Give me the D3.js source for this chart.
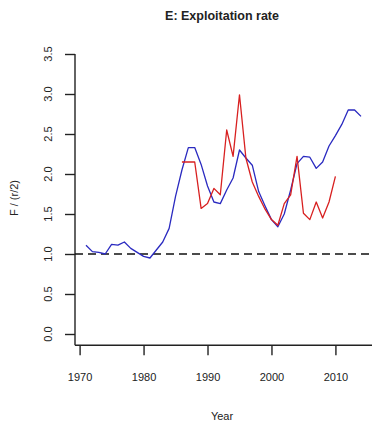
<html>
<head>
<script src="https://d3js.org/d3.v7.min.js"></script>
<style>
  body { margin: 0; background: #fff; }
  text { font-family: "Liberation Sans", Arial, sans-serif; fill: #222; }
</style>
</head>
<body>
<svg id="chart" width="375" height="424"></svg>
<script>
// model estimate (blue), 1971-2014
const yearsModel = d3.range(1971, 2015);
const fModel = [1.11, 1.03, 1.02, 1.00, 1.12, 1.11, 1.15, 1.07, 1.02, 0.97,
                0.95, 1.05, 1.15, 1.32, 1.72, 2.05, 2.33, 2.33, 2.12, 1.85,
                1.65, 1.63, 1.80, 1.95, 2.30, 2.20, 2.11, 1.78, 1.60, 1.43,
                1.34, 1.50, 1.80, 2.13, 2.22, 2.21, 2.07, 2.15, 2.35, 2.48,
                2.62, 2.80, 2.80, 2.72];
// observed / alternative (red), 1986-2010
const yearsObs = d3.range(1986, 2011);
const fObs = [2.15, 2.15, 2.15, 1.57, 1.63, 1.82, 1.74, 2.55, 2.22, 2.99,
              2.20, 1.90, 1.72, 1.56, 1.43, 1.36, 1.63, 1.74, 2.22, 1.51,
              1.43, 1.65, 1.45, 1.65, 1.97];
const xTicks = [1970, 1980, 1990, 2000, 2010];
const yTicks = [0, 0.5, 1, 1.5, 2, 2.5, 3, 3.5];
const refLevel = 1.0;

const svg = d3.select("svg#chart");
const plot = { left: 75, right: 372, top: 42.8, bottom: 345.2 };

// R style 4% extension of the ranges
const xr = [1971, 2014], yr = [0, 3.5];
const xPad = (xr[1] - xr[0]) * 0.04, yPad = (yr[1] - yr[0]) * 0.04;
const xScale = d3.scaleLinear().domain([xr[0] - xPad, xr[1] + xPad]).range([plot.left, plot.right]);
const yScale = d3.scaleLinear().domain([yr[0] - yPad, yr[1] + yPad]).range([plot.bottom, plot.top]);

// axes
const bottomA = d3.axisBottom(xScale).tickValues(xTicks).tickSize(10).tickPadding(18).tickFormat(d3.format("d"));
const xAxis = svg.append("g")
  .attr("transform", `translate(0,${plot.bottom})`)
  .call(bottomA);
xAxis.select(".domain").remove();
xAxis.selectAll("line").attr("stroke", "#222").attr("stroke-width", 1.4);
xAxis.selectAll("text").attr("font-size", 11).attr("fill", "#222");

const leftA = d3.axisLeft(yScale).tickValues(yTicks).tickSize(10).tickFormat("");
const yAxis = svg.append("g")
  .attr("transform", `translate(${plot.left},0)`)
  .call(leftA);
yAxis.select(".domain").remove();
yAxis.selectAll("line").attr("stroke", "#222").attr("stroke-width", 1.4);

svg.selectAll("text.ytick").data(yTicks)
  .join("text")
  .attr("class", "ytick")
  .attr("transform", d => `translate(48,${yScale(d)}) rotate(-90)`)
  .attr("text-anchor", "middle")
  .attr("dominant-baseline", "central")
  .attr("font-size", 11)
  .text(d => d3.format(".1f")(d));

// L-shaped frame
svg.append("line")
  .attr("x1", plot.left).attr("x2", plot.left)
  .attr("y1", yScale(3.5)).attr("y2", plot.bottom)
  .attr("stroke", "#222").attr("stroke-width", 1.4);
svg.append("line")
  .attr("x1", plot.left).attr("x2", plot.right)
  .attr("y1", plot.bottom).attr("y2", plot.bottom)
  .attr("stroke", "#222").attr("stroke-width", 1.4);

// reference line
svg.append("line")
  .attr("x1", plot.left).attr("x2", plot.right)
  .attr("y1", yScale(refLevel)).attr("y2", yScale(refLevel))
  .attr("stroke", "#111").attr("stroke-width", 1.3)
  .attr("stroke-dasharray", "8,5");

const lineGen = d3.line().x(d => xScale(d[0])).y(d => yScale(d[1]));

svg.append("path")
  .datum(yearsModel.map((y, i) => [y, fModel[i]]))
  .attr("fill", "none").attr("stroke", "#2a2ac0").attr("stroke-width", 1.3)
  .attr("stroke-linejoin", "round")
  .attr("d", lineGen);

svg.append("path")
  .datum(yearsObs.map((y, i) => [y, fObs[i]]))
  .attr("fill", "none").attr("stroke", "#d82020").attr("stroke-width", 1.3)
  .attr("stroke-linejoin", "round")
  .attr("d", lineGen);

// labels
svg.append("text")
  .attr("x", 222).attr("y", 20)
  .attr("text-anchor", "middle")
  .attr("font-size", 12.5).attr("font-weight", "bold")
  .text("E: Exploitation rate");

svg.append("text")
  .attr("x", 222).attr("y", 420)
  .attr("text-anchor", "middle")
  .attr("font-size", 11)
  .text("Year");

svg.append("text")
  .attr("transform", `translate(18,198) rotate(-90)`)
  .attr("text-anchor", "middle")
  .attr("font-size", 11)
  .text("F / (r/2)");
</script>
</body>
</html>
